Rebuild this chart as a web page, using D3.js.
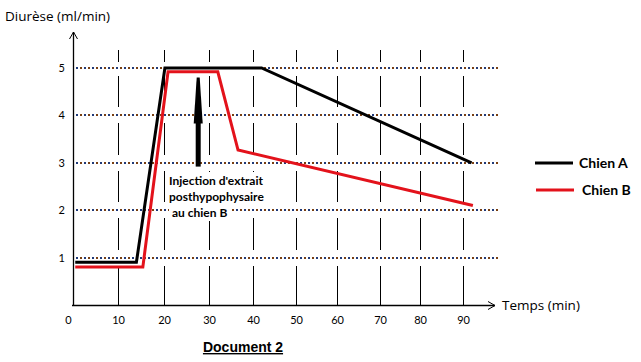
<!DOCTYPE html>
<html lang="fr">
<head>
<meta charset="UTF-8" />
<title>Document 2</title>
<style>
  body { margin: 0; background: #fff; }
  svg { display: block; }
  text { font-family: Lato, "Open Sans", sans-serif; fill: #000; }
  .title { font-family: "Open Sans", sans-serif; font-size: 13.5px; }
  .tick text { font-size: 11px; }
  .note { font-weight: bold; font-size: 12px; }
  .legend { font-weight: bold; font-size: 14px; }
  .doc { font-family: "Liberation Sans", Arial, sans-serif; font-weight: bold; font-size: 14px; text-decoration: underline; }
</style>
</head>
<body>
<div class="container"></div>
<script src="https://d3js.org/d3.v7.min.js"></script>
<script>
const tempsTicks = [0, 10, 20, 30, 40, 50, 60, 70, 80, 90];
const diureseTicks = [1, 2, 3, 4, 5];
const seriesNames = ["Chien A", "Chien B"];
const seriesColors = ["#000000", "#e3121b"];
// Chien A
const chienATemps = [0.5, 14, 20.2, 42, 92];
const chienAValues = [0.9, 0.9, 5, 5, 3];
// Chien B
const chienBTemps = [0.5, 15.4, 20.9, 32, 36.6, 92.3];
const chienBValues = [0.8, 0.8, 4.92, 4.92, 3.27, 2.1];
// injection arrow
const injectionTemps = 27.6;
const injectionFrom = 2.92;
const injectionTo = 4.8;
const noteLines = ["Injection d'extrait", "posthypophysaire", "au chien B"];

const w = 641, h = 362;
const svg = d3.select(".container").append("svg")
  .attr("width", w).attr("height", h);

// hand-drawn grid is not evenly spaced, so piecewise scale
const x = d3.scaleLinear()
  .domain(tempsTicks)
  .range([73, 118, 164, 209, 253, 296, 337, 380, 420, 463]);
const y = d3.scaleLinear().domain([0, 5]).range([305, 68]);

// vertical dashed lines (broken around each grid level)
const gap = 8;
tempsTicks.slice(1).forEach(t => {
  const px = Math.round(x(t)) + 0.5;
  const segs = [[y(5) - 18, y(5) - 6]];
  for (let k = 5; k >= 1; k--) {
    segs.push([y(k) + gap, k === 1 ? y(0) : y(k - 1) - gap]);
  }
  svg.append("g").selectAll("line").data(segs).enter().append("line")
    .attr("x1", px).attr("x2", px)
    .attr("y1", d => Math.round(d[0])).attr("y2", d => Math.round(d[1]))
    .attr("stroke", "#000").attr("stroke-width", 1);
});

// horizontal dotted lines
const hgrid = svg.append("g");
diureseTicks.forEach(v => {
  const py = Math.round(y(v));
  hgrid.append("line")
    .attr("x1", 76).attr("x2", 498).attr("y1", py).attr("y2", py)
    .attr("stroke", "#1f3a7a").attr("stroke-width", 2)
    .attr("stroke-dasharray", "2,6");
  hgrid.append("line")
    .attr("x1", 76).attr("x2", 498).attr("y1", py).attr("y2", py)
    .attr("stroke", "#7a3f10").attr("stroke-width", 2)
    .attr("stroke-dasharray", "2,6").attr("stroke-dashoffset", -4);
});

// annotation with white background
const note = svg.append("g");
const noteX = [169, 169, 172];
noteLines.forEach((s, i) => {
  const t = note.append("text").attr("class", "note")
    .attr("x", noteX[i]).attr("y", 185 + i * 16).text(s);
  const b = t.node().getBBox();
  note.insert("rect", "text")
    .attr("x", b.x - 3).attr("y", b.y - 1)
    .attr("width", b.width + 6).attr("height", b.height + 2)
    .attr("fill", "#fff");
});

// axes labels via d3 axes
const xAxis = d3.axisBottom(x).tickValues(tempsTicks).tickSize(0).tickPadding(11);
const yAxis = d3.axisLeft(y).tickValues(diureseTicks).tickFormat(d3.format("d"))
  .tickSize(0).tickPadding(8);
const gx = svg.append("g").attr("transform", "translate(0,305)").call(xAxis);
const gy = svg.append("g").attr("transform", "translate(73,0)").call(yAxis);
[gx, gy].forEach(g => {
  g.select(".domain").remove();
  g.selectAll("text").attr("fill", "#000").style("font-family", "Lato, sans-serif");
});
gx.selectAll(".tick").filter(d => d === 0).select("text").attr("dx", -5);

// axis lines with open arrowheads
const axisLine = d3.line();
svg.append("path").attr("d", axisLine([[73.5, 305], [73.5, 32]]))
  .attr("stroke", "#000").attr("stroke-width", 1.3).attr("fill", "none");
svg.append("path").attr("d", axisLine([[69.5, 39], [73.5, 32], [77.5, 39]]))
  .attr("stroke", "#000").attr("stroke-width", 1).attr("fill", "none");
svg.append("path").attr("d", axisLine([[72, 305.5], [495, 305.5]]))
  .attr("stroke", "#000").attr("stroke-width", 1.3).attr("fill", "none");
svg.append("path").attr("d", axisLine([[488, 301.5], [495, 305.5], [488, 309.5]]))
  .attr("stroke", "#000").attr("stroke-width", 1).attr("fill", "none");

svg.append("text").attr("class", "title").attr("x", 5).attr("y", 21).text("Diurèse (ml/min)");
svg.append("text").attr("class", "title").attr("x", 502).attr("y", 310).text("Temps (min)");

// series
const line = d3.line().x(d => x(d[0])).y(d => y(d[1]));
const series = [
  d3.zip(chienATemps, chienAValues),
  d3.zip(chienBTemps, chienBValues)
];
svg.append("g").selectAll("path").data(series).enter().append("path")
  .attr("d", line)
  .attr("fill", "none")
  .attr("stroke", (d, i) => seriesColors[i])
  .attr("stroke-width", 3)
  .attr("stroke-linejoin", "miter");

// injection arrow
const ax = x(injectionTemps), yb = y(injectionFrom), yt = y(injectionTo);
svg.append("rect")
  .attr("x", ax - 2.5).attr("y", yt + 40).attr("width", 5).attr("height", yb - yt - 40)
  .attr("fill", "#000");
svg.append("path")
  .attr("d", axisLine([[ax - 4.5, yt + 46], [ax + 4.5, yt + 46], [ax + 1.5, yt], [ax - 1.5, yt]]) + "Z")
  .attr("fill", "#000");

// legend
const lg = svg.append("g").selectAll("g").data(seriesNames).enter().append("g")
  .attr("transform", (d, i) => `translate(${535 + i}, ${163 + i * 27})`);
lg.append("line").attr("x1", 0).attr("x2", 38).attr("y1", 0).attr("y2", 0)
  .attr("stroke", (d, i) => seriesColors[i]).attr("stroke-width", 3);
lg.append("text").attr("class", "legend").attr("x", (d, i) => 44 + i * 2).attr("y", 5).text(d => d);

svg.append("text").attr("class", "doc").attr("x", 243).attr("y", 352)
  .attr("text-anchor", "middle").text("Document 2");
</script>
</body>
</html>
